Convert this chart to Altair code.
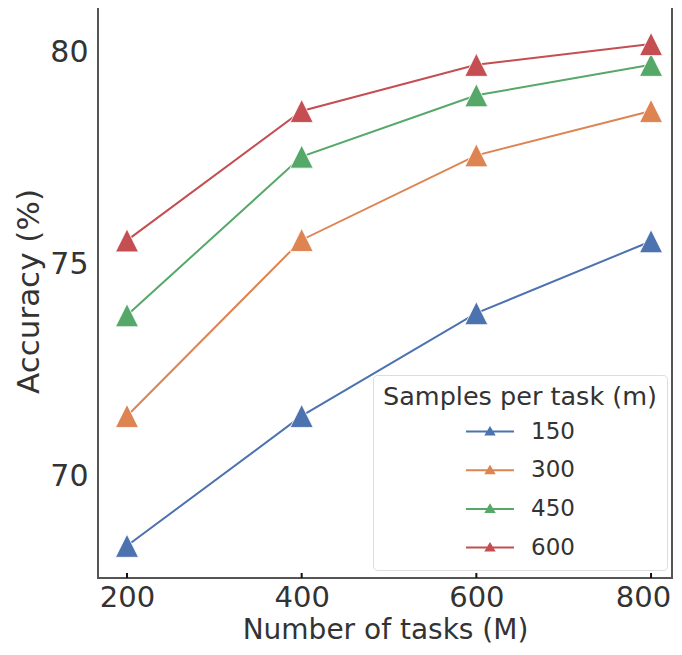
import altair as alt
import pandas as pd

tasks = [200, 400, 600, 800]
samples = ["150", "300", "450", "600"]
acc_150 = [68.35, 71.42, 73.85, 75.55]
acc_300 = [71.42, 75.58, 77.58, 78.63]
acc_450 = [73.8, 77.55, 79.0, 79.72]
acc_600 = [75.57, 78.63, 79.72, 80.21]
colors = ["#4C72B0", "#DD8452", "#55A868", "#C44E52"]
x_ticks = [200, 400, 600, 800]
y_ticks = [70, 75, 80]

rows = []
for s, vals in zip(samples, [acc_150, acc_300, acc_450, acc_600]):
    for t, v in zip(tasks, vals):
        rows.append({"tasks": t, "acc": v, "m": s})
df = pd.DataFrame(rows)
tick_df = pd.DataFrame({"t": x_ticks})

FONT = "DejaVu Sans"
TXT = "#333333"

W, H = 574, 574
xscale = alt.Scale(domain=[166.8, 824.0], nice=False, zero=False)
yscale = alt.Scale(domain=[67.589, 81.158], nice=False, zero=False)
cscale = alt.Scale(domain=samples, range=colors)

legend = alt.Legend(
    title="Samples per task (m)",
    orient="none", legendX=275, legendY=371,
    titleFontSize=25.5, titleFont=FONT, titleColor=TXT, titleFontWeight="normal",
    titleAnchor="middle", titlePadding=8, titleLimit=400,
    labelFontSize=23, labelFont=FONT, labelColor=TXT, labelLimit=200,
    symbolType="M-2,0H2M-0.33,0.25L0,-0.3L0.33,0.25Z",
    symbolSize=576, symbolStrokeWidth=2, symbolOffset=11, labelOffset=28,
    rowPadding=13.7, padding=10,
    fillColor="white", strokeColor="#dddddd", cornerRadius=4,
)

base = alt.Chart(df).encode(
    x=alt.X("tasks:Q", scale=xscale,
            axis=alt.Axis(values=x_ticks, title="Number of tasks (M)", grid=False,
                          domain=False, ticks=False, labelPadding=5, titlePadding=4.8,
                          labelFontSize=29, titleFontSize=28,
                          labelOffset={"condition": {"test": "datum.value == 800", "value": -8},
                                       "value": 0})),
    y=alt.Y("acc:Q", scale=yscale,
            axis=alt.Axis(values=y_ticks, title="Accuracy (%)", grid=False,
                          domain=False, ticks=False, labelPadding=10, titlePadding=4,
                          labelFontSize=30, titleFontSize=31)),
    color=alt.Color("m:N", scale=cscale, legend=legend, sort=samples),
)

lines = base.mark_line(strokeWidth=2)
points = base.mark_point(filled=True, shape="M0,-1L-1,1L1,1Z", size=529, opacity=1,
                         stroke="white", strokeWidth=0.8)

ticks = alt.Chart(tick_df).mark_rule(color="#111111", strokeWidth=2).encode(
    x=alt.X("t:Q", scale=xscale), y=alt.value(H), y2=alt.value(H - 5)
)

chart = alt.layer(lines, points, ticks).properties(
    width=W, height=H,
    padding={"left": 90, "top": -4, "right": 2, "bottom": 69},
    autosize=alt.AutoSizeParams(type="none"),
).configure_view(
    stroke="#555555", strokeWidth=2
).configure_axis(
    labelFont=FONT, titleFont=FONT,
    labelColor=TXT, titleColor=TXT, titleFontWeight="normal",
)

chart.save("out.html", embed_options={"renderer": "svg", "actions": False})
